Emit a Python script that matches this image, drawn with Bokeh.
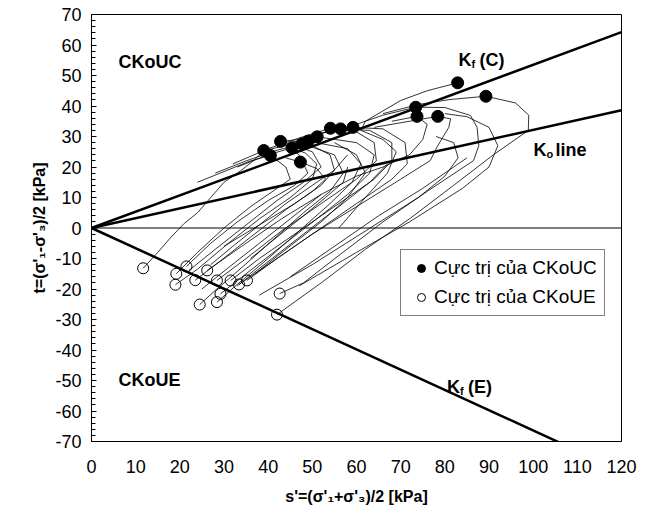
from bokeh.plotting import figure
from bokeh.models import Range1d, Span, Label, Legend, LegendItem, FixedTicker
from bokeh.embed import file_html
from bokeh.resources import INLINE

# ---------------- data ----------------
x_ticks = list(range(0, 121, 10))
y_ticks = list(range(-70, 71, 10))
y_minor = list(range(-70, 71, 2))

# reference lines through origin: t = slope * s
kfc_s = [0, 120]
kfc_t = [0, 64.2]
ko_s = [0, 120]
ko_t = [0, 38.6]
kfe_s = [0, 108]
kfe_t = [0, -71.7]

# peaks of CKoUC tests (filled)
peak_c_s = [39.0, 40.5, 42.8, 45.4, 47.3, 47.7, 49.1, 51.1, 54.1, 56.4, 59.2,
            73.4, 73.7, 78.4, 82.9, 89.3]
peak_c_t = [25.4, 23.8, 28.4, 26.3, 21.6, 27.6, 28.5, 29.9, 32.7, 32.5, 33.0,
            39.6, 36.6, 36.6, 47.6, 43.2]

# peaks of CKoUE tests (open)
peak_e_s = [11.7, 19.2, 21.5, 19.0, 23.5, 24.5, 28.4, 29.2, 28.4, 31.5, 35.2,
            33.4, 42.6, 42.0, 26.2]
peak_e_t = [-13.2, -15.0, -12.6, -18.6, -17.1, -25.1, -24.3, -21.6, -17.2, -17.2,
            -17.2, -18.5, -21.5, -28.4, -13.9]

# stress paths (s', t)
path_s = [
    [11.7, 15, 18, 21, 24, 27, 30, 34, 37, 39.0, 44, 48],
    [19.2, 24, 30, 36, 42, 45, 44, 40.5, 36, 30, 24],
    [21.5, 27, 33, 40, 46, 49, 47, 42.8, 47, 52],
    [19.0, 24, 31, 38, 45, 50, 51, 48.5, 45.4, 40, 33],
    [23.5, 29, 36, 44, 50, 53, 51, 47.3, 44],
    [24.5, 28, 34, 41, 48, 54, 57, 55, 47.7, 42, 35, 28],
    [28.4, 33, 40, 47, 54, 59, 61, 58, 49.1, 44],
    [29.2, 35, 43, 51, 58, 63, 64, 60, 51.1, 45],
    [28.4, 35, 43, 52, 60, 64.5, 64, 60, 54.1, 48, 40, 32],
    [31.5, 38, 47, 56, 64, 68, 68, 63, 56.4, 50],
    [35.2, 42, 51, 60, 68, 71.5, 71, 66, 59.2, 52],
    [33.4, 40, 50, 60, 70, 76.7, 78.2, 80.9, 81.3, 78.4, 72, 64],
    [42.6, 48, 56, 66, 76, 86.5, 87.7, 87.3, 85.8, 80, 73.4, 66, 60],
    [42.0, 52, 62, 72, 82, 91, 98.9, 99, 96, 89.3, 81, 74, 66],
    [26.2, 34, 43, 52, 60, 66, 72, 75, 76, 73.7, 68],
    [56, 62, 67, 69, 66, 61, 62, 70, 76, 82.9],
    [47, 60, 72, 84, 90, 92, 90, 85, 80],
    [38, 50, 62, 74, 80, 83, 82, 78],
    [30, 38, 46, 52, 55, 54, 50, 45],
    [36, 42, 48, 53, 57, 58],
    [22, 28, 35, 42, 48, 52, 50, 46],
    [33, 40, 48, 56, 63, 67],
    [25, 31, 38, 45, 52],
    [45, 55, 65, 75, 85],
    [37, 44, 52, 58, 62, 60, 55],
    [27, 32, 38, 44, 50, 55, 58],
]
path_t = [
    [-13.2, -8, -3, 1.5, 5, 10, 15, 19, 22.5, 25.4, 27, 28],
    [-15.0, -8, 0, 7, 13, 16, 20, 23.8, 22, 18.5, 15],
    [-12.6, -5, 2, 9, 14, 18, 24, 28.4, 29, 30.5],
    [-18.6, -13.5, -5, 3, 10, 16, 21, 24.5, 26.3, 24, 20],
    [-17.1, -11, -3, 6, 12, 16, 19.5, 21.6, 23],
    [-25.1, -20.5, -13, -4, 5, 12, 18, 24, 27.6, 25.5, 22, 18],
    [-24.3, -18.5, -10, -1, 8, 15, 21, 26, 28.5, 27.5],
    [-21.6, -15, -6, 3, 11, 18, 24, 28, 29.9, 28],
    [-17.2, -10, -1, 8, 16, 22, 28, 31.5, 32.7, 30, 26, 21],
    [-17.2, -10, -1, 8, 16, 22, 28, 32, 32.5, 30.5],
    [-17.2, -10, -1, 8, 16, 21, 28, 32.5, 33.0, 31],
    [-18.5, -12, -2, 7, 16, 22.1, 26.5, 33, 35.8, 36.6, 35, 33],
    [-21.5, -18, -9, 2, 12, 22.1, 27, 33, 36.9, 39.5, 39.6, 37, 34],
    [-28.4, -18, -7, 3, 14, 24, 32, 37, 41, 43.2, 42.1, 40.5, 37.5],
    [-13.9, -6, 3, 11, 17, 20, 24, 29, 34, 36.6, 35],
    [0, 10, 18, 25, 29, 32, 35, 41.8, 45, 47.6],
    [-19, -8, 2, 13, 20, 27, 33, 36.5, 37.5],
    [-22, -12, -1, 10, 17, 23, 28, 30],
    [-6, 1, 8, 14, 19, 24, 27, 28],
    [-10, -3, 4, 10, 15, 20],
    [-14, -7, 1, 9, 15, 20, 25, 27],
    [-19, -11, -2, 7, 15, 21],
    [-20, -13, -5, 3, 11],
    [-16, -6, 4, 13, 23],
    [-15, -7, 2, 10, 18, 24, 28],
    [-12, -6, 1, 8, 14, 19, 24],
]

legend_labels = ["Cực trị của CKoUC", "Cực trị của CKoUE"]

# ---------------- figure ----------------
FONT = "Liberation Sans"

p = figure(width=653, height=519,
           x_range=Range1d(0, 120), y_range=Range1d(-70, 70),
           output_backend="svg", toolbar_location=None,
           min_border_left=91, min_border_right=32,
           min_border_top=14, min_border_bottom=78)
p.background_fill_color = "white"
p.border_fill_color = "white"
p.outline_line_color = "black"
p.outline_line_width = 1
p.xgrid.visible = False
p.ygrid.visible = False

# axes
p.xaxis.ticker = FixedTicker(ticks=x_ticks)
p.yaxis.ticker = FixedTicker(ticks=y_ticks, minor_ticks=y_minor)
p.yaxis.major_label_overrides = {v: str(v) for v in y_ticks}
p.xaxis.major_label_overrides = {v: str(v) for v in x_ticks}
for ax in (p.xaxis, p.yaxis):
    ax.axis_line_color = "black"
    ax.major_label_text_font = FONT
    ax.major_label_text_font_size = "18px"
    ax.major_label_text_color = "black"
    ax.axis_label_text_font = FONT
    ax.axis_label_text_font_style = "bold"
    ax.axis_label_text_font_size = "16px"
    ax.axis_label_text_color = "black"
p.xaxis.major_tick_line_color = None
p.xaxis.minor_tick_line_color = None
p.xaxis.major_label_standoff = 12
p.xaxis.axis_label_standoff = 12
p.yaxis.major_tick_in = 5
p.yaxis.major_tick_out = 0
p.yaxis.minor_tick_in = 4
p.yaxis.minor_tick_out = 0
p.yaxis.major_tick_line_color = "black"
p.yaxis.minor_tick_line_color = "black"
p.yaxis.major_label_standoff = 10
p.yaxis.axis_label_standoff = 4
p.xaxis.axis_label = "s'=(σ'₁+σ'₃)/2 [kPa]"
p.yaxis.axis_label = "t=(σ'₁-σ'₃)/2 [kPa]"

# zero line
p.add_layout(Span(location=0, dimension="width", line_color="black", line_width=1))

# stress paths
p.multi_line(xs=path_s, ys=path_t, line_color="black", line_width=0.8)

# failure / Ko lines
p.line(kfc_s, kfc_t, line_color="black", line_width=2.5)
p.line(ko_s, ko_t, line_color="black", line_width=2.5)
p.line(kfe_s, kfe_t, line_color="black", line_width=2.5)

# peaks
r_c = p.scatter(peak_c_s, peak_c_t, marker="circle", size=12,
                fill_color="black", line_color="black")
r_e = p.scatter(peak_e_s, peak_e_t, marker="circle", size=11,
                fill_color="white", fill_alpha=0.0, line_color="black", line_width=1)

legend = Legend(items=[LegendItem(label=legend_labels[0], renderers=[r_c]),
                       LegendItem(label=legend_labels[1], renderers=[r_e])],
                location=(309, 125), orientation="vertical")
legend.border_line_color = "black"
legend.border_line_width = 1
legend.background_fill_color = "white"
legend.background_fill_alpha = 1
legend.label_text_font = FONT
legend.label_text_font_size = "19px"
legend.label_text_color = "black"
legend.padding = 7
legend.spacing = 7
legend.margin = 0
legend.glyph_width = 26
legend.glyph_height = 20
legend.label_height = 20
legend.label_standoff = 0
p.add_layout(legend, "center")


def add_text(x, y, text, size="18px", style="bold", xo=0, yo=0):
    p.add_layout(Label(x=x, y=y, text=text, x_offset=xo, y_offset=yo,
                       text_font=FONT, text_font_size=size,
                       text_font_style=style, text_color="black",
                       text_baseline="alphabetic", text_align="left"))


add_text(6.1, 54.3, "CKoUC")
add_text(6.1, -49.7, "CKoUE")
# Kf (C)
add_text(83.1, 55.0, "K")
add_text(83.1, 55.0, "f", size="11px", xo=13, yo=-4)
add_text(83.1, 55.0, "(C)", xo=21)
# Ko line
add_text(100.1, 25.5, "K")
add_text(100.1, 25.5, "o", size="11px", xo=13, yo=-4)
add_text(100.1, 25.5, "line", xo=22)
# Kf (E)
add_text(80.5, -52.2, "K")
add_text(80.5, -52.2, "f", size="11px", xo=13, yo=-4)
add_text(80.5, -52.2, "(E)", xo=21)

open("out.html", "w").write(file_html(p, INLINE))
